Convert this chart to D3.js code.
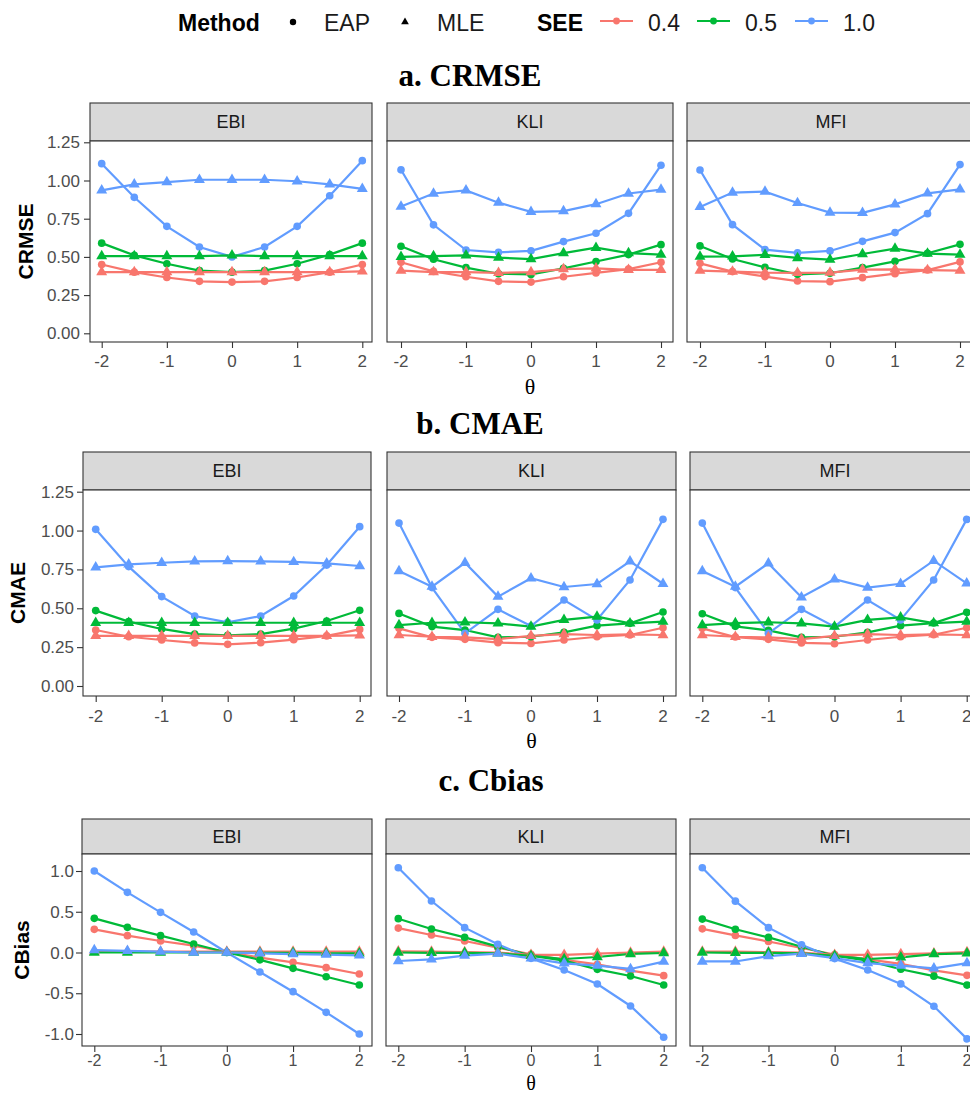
<!DOCTYPE html>
<html>
<head>
<meta charset="utf-8">
<script src="https://cdn.jsdelivr.net/npm/d3@7"></script>
<style>
  body { margin: 0; background: #fff; }
  svg { display: block; overflow: hidden; }
</style>
</head>
<body>
<svg id="chart"></svg>
<script>
// ---- data ----
var theta = [-2, -1.5, -1, -0.5, 0, 0.5, 1, 1.5, 2];
var methods = ["EAP", "MLE"];
var seeLevels = ["0.4", "0.5", "1.0"];
var seeColors = ["#F8766D", "#00BA38", "#619CFF"];
var selections = ["EBI", "KLI", "MFI"];
var crmseTicks = [0, 0.25, 0.5, 0.75, 1, 1.25];
var cbiasTicks = [-1, -0.5, 0, 0.5, 1];
var thetaTicks = [-2, -1, 0, 1, 2];

// rows: EAP 0.4, EAP 0.5, EAP 1.0, MLE 0.4, MLE 0.5, MLE 1.0
var crmseEBI = [
  [0.45, 0.40, 0.365, 0.34, 0.335, 0.34, 0.365, 0.40, 0.45],
  [0.59, 0.51, 0.455, 0.41, 0.40, 0.41, 0.455, 0.515, 0.59],
  [1.11, 0.89, 0.70, 0.565, 0.50, 0.565, 0.70, 0.90, 1.13],
  [0.40, 0.40, 0.40, 0.40, 0.40, 0.40, 0.40, 0.40, 0.405],
  [0.505, 0.505, 0.505, 0.505, 0.51, 0.505, 0.505, 0.505, 0.505],
  [0.935, 0.975, 0.99, 1.005, 1.005, 1.005, 0.995, 0.975, 0.945]
];
var crmseKLI = [
  [0.465, 0.405, 0.37, 0.34, 0.335, 0.37, 0.395, 0.42, 0.465],
  [0.57, 0.485, 0.43, 0.39, 0.385, 0.425, 0.47, 0.515, 0.58],
  [1.07, 0.71, 0.545, 0.53, 0.54, 0.60, 0.655, 0.785, 1.10],
  [0.41, 0.40, 0.40, 0.395, 0.40, 0.42, 0.425, 0.415, 0.415],
  [0.50, 0.505, 0.51, 0.495, 0.485, 0.525, 0.56, 0.525, 0.515],
  [0.83, 0.915, 0.935, 0.855, 0.795, 0.80, 0.845, 0.915, 0.94]
];
var crmseMFI = [
  [0.458, 0.404, 0.371, 0.342, 0.338, 0.364, 0.39, 0.414, 0.467],
  [0.572, 0.486, 0.432, 0.386, 0.393, 0.43, 0.471, 0.524, 0.582],
  [1.069, 0.711, 0.548, 0.526, 0.539, 0.602, 0.659, 0.783, 1.104],
  [0.41, 0.404, 0.397, 0.395, 0.397, 0.417, 0.419, 0.414, 0.41],
  [0.502, 0.504, 0.513, 0.493, 0.482, 0.519, 0.554, 0.521, 0.515],
  [0.827, 0.921, 0.927, 0.853, 0.79, 0.788, 0.844, 0.916, 0.942]
];
var cmaeEBI = [
  [0.36, 0.317, 0.296, 0.277, 0.268, 0.279, 0.298, 0.322, 0.364],
  [0.485, 0.414, 0.367, 0.334, 0.326, 0.334, 0.369, 0.418, 0.487],
  [1.008, 0.768, 0.575, 0.45, 0.41, 0.45, 0.579, 0.778, 1.025],
  [0.322, 0.322, 0.322, 0.322, 0.322, 0.322, 0.322, 0.322, 0.326],
  [0.407, 0.407, 0.407, 0.407, 0.407, 0.407, 0.407, 0.407, 0.407],
  [0.763, 0.783, 0.793, 0.802, 0.804, 0.802, 0.798, 0.789, 0.772]
];
var cmaeKLI = [
  [0.371, 0.313, 0.30, 0.279, 0.274, 0.296, 0.317, 0.328, 0.375],
  [0.467, 0.382, 0.36, 0.313, 0.317, 0.345, 0.388, 0.403, 0.476],
  [1.048, 0.633, 0.339, 0.493, 0.386, 0.553, 0.425, 0.682, 1.072],
  [0.328, 0.317, 0.313, 0.302, 0.322, 0.334, 0.328, 0.332, 0.328],
  [0.392, 0.407, 0.41, 0.403, 0.382, 0.425, 0.446, 0.403, 0.414],
  [0.74, 0.639, 0.793, 0.575, 0.693, 0.637, 0.656, 0.802, 0.658]
];
var cmaeMFI = [
  [0.371, 0.315, 0.30, 0.277, 0.272, 0.296, 0.317, 0.33, 0.375],
  [0.465, 0.384, 0.358, 0.313, 0.317, 0.345, 0.388, 0.405, 0.474],
  [1.048, 0.633, 0.339, 0.493, 0.382, 0.553, 0.425, 0.682, 1.072],
  [0.328, 0.317, 0.313, 0.302, 0.322, 0.334, 0.328, 0.332, 0.328],
  [0.392, 0.405, 0.41, 0.403, 0.382, 0.425, 0.442, 0.405, 0.414],
  [0.74, 0.639, 0.789, 0.571, 0.687, 0.633, 0.658, 0.806, 0.66]
];
var cbiasEBI = [
  [0.284, 0.207, 0.141, 0.084, 0.005, -0.063, -0.121, -0.186, -0.264],
  [0.419, 0.309, 0.207, 0.104, 0, -0.09, -0.194, -0.297, -0.399],
  [1.0, 0.738, 0.493, 0.252, 0, -0.239, -0.481, -0.734, -1.0],
  [0.01, 0.01, 0.01, 0.01, 0.01, 0.01, 0.01, 0.01, 0.01],
  [0, 0, 0, 0, 0, -0.005, -0.005, -0.01, -0.01],
  [0.03, 0.02, 0.01, 0, 0, -0.01, -0.02, -0.027, -0.035]
];
var cbiasKLI = [
  [0.30, 0.215, 0.141, 0.059, -0.022, -0.09, -0.145, -0.223, -0.284],
  [0.415, 0.288, 0.186, 0.072, -0.039, -0.10, -0.207, -0.288, -0.399],
  [1.04, 0.632, 0.305, 0.10, -0.072, -0.215, -0.387, -0.656, -1.04],
  [0.014, 0.01, 0.006, 0, -0.03, -0.03, -0.014, 0, 0.01],
  [0, -0.004, -0.004, -0.01, -0.04, -0.08, -0.055, -0.018, -0.006],
  [-0.104, -0.084, -0.039, -0.014, -0.072, -0.133, -0.162, -0.202, -0.112]
];
var cbiasMFI = [
  [0.29, 0.21, 0.135, 0.055, -0.025, -0.085, -0.14, -0.22, -0.28],
  [0.41, 0.285, 0.185, 0.07, -0.04, -0.10, -0.205, -0.29, -0.40],
  [1.04, 0.63, 0.305, 0.095, -0.075, -0.215, -0.385, -0.66, -1.06],
  [0.01, 0.01, 0.005, 0, -0.03, -0.03, -0.02, -0.01, 0.005],
  [0, -0.004, -0.004, -0.01, -0.04, -0.08, -0.06, -0.02, -0.01],
  [-0.11, -0.11, -0.045, -0.015, -0.07, -0.13, -0.16, -0.195, -0.13]
];

// ---- layout ----
var width = 970, height = 1095;
var sans = "'Liberation Sans', Arial, sans-serif",
    serif = "'Liberation Serif', 'Times New Roman', serif";

var svg = d3.select("#chart")
    .attr("width", width)
    .attr("height", height);

var blocks = [
  { title: "a. CRMSE", titleX: 470, titleY: 86, ylab: "CRMSE", ylabX: 33,
    data: [crmseEBI, crmseKLI, crmseMFI], ticks: crmseTicks, fmt: d3.format(".2f"),
    yDomain: [0, 1.25], yRange: [333.3, 142.3],
    strip: [103, 141], panelBottom: 342, tickLabY: 367, tickSize: 17, thetaY: 394, thetaSize: 22, yLabRight: 80,
    panels: [[90, 372, 101.7, 362.3], [387, 673, 401, 661], [687, 975, 700, 960]] },
  { title: "b. CMAE", titleX: 480, titleY: 434, ylab: "CMAE", ylabX: 25,
    data: [cmaeEBI, cmaeKLI, cmaeMFI], ticks: crmseTicks, fmt: d3.format(".2f"),
    yDomain: [0, 1.25], yRange: [686, 491.7],
    strip: [452, 490], panelBottom: 696, tickLabY: 722, tickSize: 17, thetaY: 748, thetaSize: 22, yLabRight: 74,
    panels: [[83, 371, 95.7, 359.7], [387, 676, 399, 663], [690, 980, 702.3, 966.7]] },
  { title: "c. Cbias", titleX: 491, titleY: 791, ylab: "CBias", ylabX: 29,
    data: [cbiasEBI, cbiasKLI, cbiasMFI], ticks: cbiasTicks, fmt: d3.format(".1f"),
    yDomain: [-1, 1], yRange: [1034, 871],
    strip: [819, 854], panelBottom: 1046, tickLabY: 1066, tickSize: 16, thetaY: 1090, thetaSize: 20, yLabRight: 74,
    panels: [[82, 372, 94.3, 359.3], [386, 676, 398.3, 663.7], [690, 980, 702.3, 967]] }
];

var line = d3.line();
var circle = d3.symbol().type(d3.symbolCircle).size(46);
var triangle = d3.symbol().type(d3.symbolTriangle).size(52);

blocks.forEach(function(b) {
  var y = d3.scaleLinear().domain(b.yDomain).range(b.yRange);

  svg.append("text")
      .attr("x", b.titleX)
      .attr("y", b.titleY)
      .attr("text-anchor", "middle")
      .attr("font-family", serif)
      .attr("font-weight", "bold")
      .attr("font-size", "31px")
      .text(b.title);

  var midY = (b.strip[1] + b.panelBottom) / 2;
  svg.append("text")
      .attr("transform", "translate(" + b.ylabX + "," + midY + ") rotate(-90)")
      .attr("text-anchor", "middle")
      .attr("font-family", sans)
      .attr("font-weight", "bold")
      .attr("font-size", "21px")
      .text(b.ylab);

  b.panels.forEach(function(p, pi) {
    var x = d3.scaleLinear().domain([-2, 2]).range([p[2], p[3]]);
    var g = svg.append("g");

    // strip
    g.append("rect")
        .attr("x", p[0]).attr("y", b.strip[0])
        .attr("width", p[1] - p[0]).attr("height", b.strip[1] - b.strip[0])
        .attr("fill", "#D9D9D9").attr("stroke", "#333333").attr("stroke-width", 1.1);
    g.append("text")
        .attr("x", (p[0] + p[1]) / 2)
        .attr("y", (b.strip[0] + b.strip[1]) / 2 + 6.3)
        .attr("text-anchor", "middle")
        .attr("font-family", sans)
        .attr("font-size", "18px")
        .attr("fill", "#1A1A1A")
        .text(selections[pi]);

    // panel
    g.append("rect")
        .attr("x", p[0]).attr("y", b.strip[1])
        .attr("width", p[1] - p[0]).attr("height", b.panelBottom - b.strip[1])
        .attr("fill", "#fff").attr("stroke", "#333333").attr("stroke-width", 1.1);

    // x axis
    var xa = g.append("g")
        .attr("transform", "translate(0," + b.panelBottom + ")")
        .call(d3.axisBottom(x).tickValues(thetaTicks).tickSize(6).tickFormat(""));
    xa.select(".domain").remove();
    xa.selectAll("line").attr("stroke", "#333333").attr("stroke-width", 1.1);
    thetaTicks.forEach(function(t) {
      g.append("text")
          .attr("x", x(t))
          .attr("y", b.tickLabY)
          .attr("text-anchor", "middle")
          .attr("font-family", sans)
          .attr("font-size", b.tickSize + "px")
          .attr("fill", "#4D4D4D")
          .text(t < 0 ? "-" + Math.abs(t) : t);
    });

    // y axis (first panel only)
    if (pi === 0) {
      var ya = g.append("g")
          .attr("transform", "translate(" + p[0] + ",0)")
          .call(d3.axisLeft(y).tickValues(b.ticks).tickSize(6).tickFormat(""));
      ya.select(".domain").remove();
      ya.selectAll("line").attr("stroke", "#333333").attr("stroke-width", 1.1);
      b.ticks.forEach(function(t) {
        g.append("text")
            .attr("x", b.yLabRight)
            .attr("y", y(t) + 6)
            .attr("text-anchor", "end")
            .attr("font-family", sans)
            .attr("font-size", "17px")
            .attr("fill", "#4D4D4D")
            .text(b.fmt(t).replace("−", "-"));
      });
    }

    // series
    var rows = b.data[pi];
    var clip = "clip-" + b.ylab + pi;
    svg.append("clipPath").attr("id", clip)
      .append("rect")
        .attr("x", p[0]).attr("y", b.strip[1])
        .attr("width", p[1] - p[0]).attr("height", b.panelBottom - b.strip[1]);
    var plot = g.append("g").attr("clip-path", "url(#" + clip + ")");

    rows.forEach(function(vals, ri) {
      plot.append("path")
          .attr("d", line(vals.map(function(v, i) { return [x(theta[i]), y(v)]; })))
          .attr("fill", "none")
          .attr("stroke", seeColors[ri % 3])
          .attr("stroke-width", 2.2);
    });
    rows.forEach(function(vals, ri) {
      var sym = ri < 3 ? circle : triangle;
      plot.selectAll(null)
          .data(vals)
        .enter().append("path")
          .attr("d", sym)
          .attr("transform", function(v, i) { return "translate(" + x(theta[i]) + "," + y(v) + ")"; })
          .attr("fill", seeColors[ri % 3]);
    });
  });

  // theta label under the middle panel
  var mid = b.panels[1];
  svg.append("text")
      .attr("x", (mid[0] + mid[1]) / 2)
      .attr("y", b.thetaY)
      .attr("text-anchor", "middle")
      .attr("font-family", serif)
      .attr("font-size", b.thetaSize + "px")
      .text("θ");
});

// ---- legend ----
var leg = svg.append("g").attr("font-family", sans).attr("font-size", "23px").attr("fill", "#1A1A1A");
leg.append("text").attr("x", 178).attr("y", 30.5).attr("font-weight", "bold").attr("fill", "#000").text("Method");
leg.append("circle").attr("cx", 293).attr("cy", 22).attr("r", 3.2).attr("fill", "#000");
leg.append("text").attr("x", 324).attr("y", 30.5).text(methods[0]);
leg.append("path").attr("d", d3.symbol().type(d3.symbolTriangle).size(26)()).attr("transform", "translate(405,22)").attr("fill", "#000");
leg.append("text").attr("x", 437).attr("y", 30.5).text(methods[1]);
leg.append("text").attr("x", 537).attr("y", 30.5).attr("font-weight", "bold").attr("fill", "#000").text("SEE");

var keyX = [600, 697, 795];
seeLevels.forEach(function(s, i) {
  leg.append("line")
      .attr("x1", keyX[i]).attr("x2", keyX[i] + 33)
      .attr("y1", 21).attr("y2", 21)
      .attr("stroke", seeColors[i]).attr("stroke-width", 2.2);
  leg.append("circle")
      .attr("cx", keyX[i] + 16.5).attr("cy", 21).attr("r", 3.4)
      .attr("fill", seeColors[i]);
  leg.append("text").attr("x", keyX[i] + 48).attr("y", 30.5).text(s);
});
</script>
</body>
</html>
